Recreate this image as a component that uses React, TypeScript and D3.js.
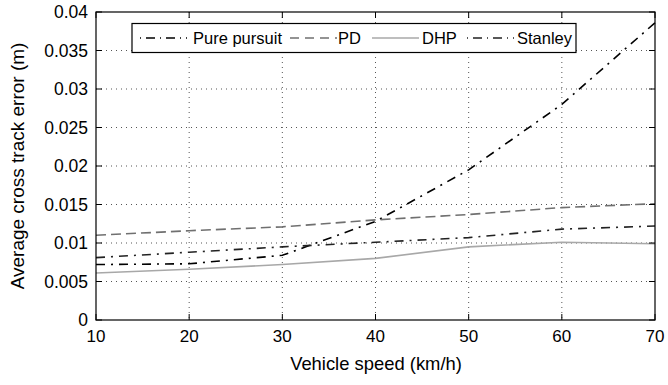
import React from "react";
import * as d3 from "d3";

const speeds = [10, 20, 30, 40, 50, 60, 70];
const purePursuit = [0.0072, 0.0073, 0.0084, 0.0128, 0.0195, 0.028, 0.0386];
const pd = [0.011, 0.0116, 0.0121, 0.013, 0.0137, 0.0146, 0.0151];
const dhp = [0.0061, 0.0066, 0.0072, 0.008, 0.0095, 0.0101, 0.0099];
const stanley = [0.0081, 0.0088, 0.0095, 0.0101, 0.0107, 0.0118, 0.0122];
const xTicks = [10, 20, 30, 40, 50, 60, 70];
const yTicks = [0, 0.005, 0.01, 0.015, 0.02, 0.025, 0.03, 0.035, 0.04];
const yTickLabels = ["0", "0.005", "0.01", "0.015", "0.02", "0.025", "0.03", "0.035", "0.04"];
const seriesNames = ["Pure pursuit", "PD", "DHP", "Stanley"];

const W = 668, H = 385;
const L = 96, R = 655, T = 12, B = 320;
const FONT = "'Liberation Sans', Arial, sans-serif";

export default function App() {
  const x = d3.scaleLinear().domain([10, 70]).range([L, R]);
  const y = d3.scaleLinear().domain([0, 0.04]).range([B, T]);
  const line = d3.line<[number, number]>().x(d => x(d[0])).y(d => y(d[1]));
  const styles = [
    { color: "#000", dash: "9,6,2,6", width: 1.6 },
    { color: "#707070", dash: "10,5", width: 1.6 },
    { color: "#a8a8a8", dash: "", width: 1.6 },
    { color: "#222", dash: "9,6,2,6", width: 1.6 },
  ];
  const data = [purePursuit, pd, dhp, stanley];
  const legendItems = [
    { lx: 140, tx: 193 },
    { lx: 290, tx: 338 },
    { lx: 372, tx: 422 },
    { lx: 467, tx: 517 },
  ];
  return (
    <svg width={W} height={H} style={{ position: "absolute", left: 0, top: 0, background: "#fff" }}>
      <rect x={0} y={0} width={W} height={H} fill="#fff" />
      {xTicks.slice(1, -1).map(t => (
        <line key={"gx" + t} x1={x(t)} x2={x(t)} y1={T} y2={B} stroke="#555" strokeWidth={1} strokeDasharray="1,4" />
      ))}
      {yTicks.slice(1, -1).map(t => (
        <line key={"gy" + t} x1={L} x2={R} y1={y(t)} y2={y(t)} stroke="#555" strokeWidth={1} strokeDasharray="1,4" />
      ))}
      {data.map((d, i) => (
        <path key={"s" + i} d={line(speeds.map((s, j) => [s, d[j]] as [number, number])) || ""}
          fill="none" stroke={styles[i].color} strokeWidth={styles[i].width}
          strokeDasharray={styles[i].dash || undefined} />
      ))}
      {xTicks.map(t => (
        <g key={"tx" + t}>
          <line x1={x(t)} x2={x(t)} y1={B} y2={B - 6} stroke="#000" />
          <line x1={x(t)} x2={x(t)} y1={T} y2={T + 6} stroke="#000" />
          <text x={x(t)} y={B + 22} textAnchor="middle" fontFamily={FONT} fontSize={17} fill="#000">{t}</text>
        </g>
      ))}
      {yTicks.map((t, i) => (
        <g key={"ty" + t}>
          <line x1={L} x2={L + 6} y1={y(t)} y2={y(t)} stroke="#000" />
          <line x1={R} x2={R - 6} y1={y(t)} y2={y(t)} stroke="#000" />
          <text x={L - 8} y={y(t) + 6} textAnchor="end" fontFamily={FONT} fontSize={17.5} fill="#000">{yTickLabels[i]}</text>
        </g>
      ))}
      <rect x={L} y={T} width={R - L} height={B - T} fill="none" stroke="#000" strokeWidth={1.2} />
      <rect x={132} y={23.5} width={444} height={29} fill="#fff" stroke="#000" strokeWidth={1.2} />
      {seriesNames.map((n, i) => (
        <g key={"lg" + i}>
          <line x1={legendItems[i].lx} x2={legendItems[i].lx + 47} y1={38} y2={38}
            stroke={styles[i].color} strokeWidth={1.5}
            strokeDasharray={i === 0 || i === 3 ? "1,5,9,5" : i === 1 ? "9,6" : undefined} />
          <text x={legendItems[i].tx} y={44} fontFamily={FONT} fontSize={16.5} fill="#000">{n}</text>
        </g>
      ))}
      <text x={376} y={370} textAnchor="middle" fontFamily={FONT} fontSize={18.4} fill="#000">Vehicle speed (km/h)</text>
      <text transform={`translate(24,${(T + B) / 2}) rotate(-90)`} textAnchor="middle" fontFamily={FONT} fontSize={19} fill="#000">Average cross track error (m)</text>
    </svg>
  );
}
